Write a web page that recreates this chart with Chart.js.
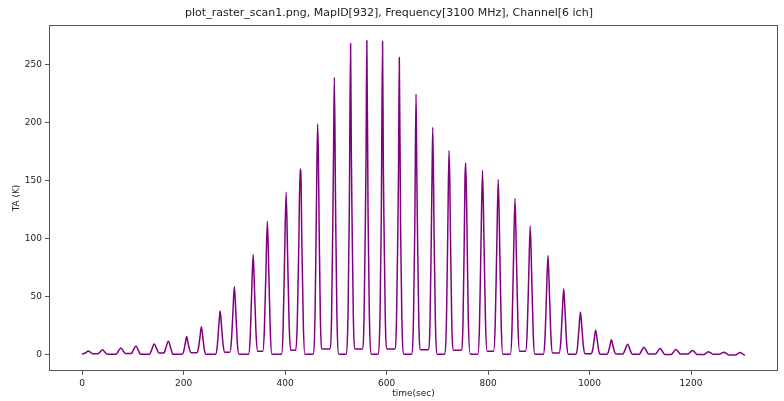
<!DOCTYPE html>
<html>
<head>
<meta charset="utf-8">
<script src="https://cdn.jsdelivr.net/npm/chart.js@4"></script>
<style>
  body { margin: 0; background: #fff; }
  canvas { display: block; }
</style>
</head>
<body>
<canvas id="myChart" width="784" height="401"></canvas>
<script>
// time axis (sec) of the raster scan
const timeSec = [
  0, 7, 12, 17, 21,
  31, 35, 40, 45, 49,
  67, 71, 76, 81, 85,
  97, 101, 106, 111, 115,
  133, 137, 142, 147, 151,
  161, 165, 170, 175, 179,
  197, 200, 203, 206, 209, 212, 215,
  226, 229, 232, 235, 238, 241, 244,
  263, 266, 269, 272, 275, 278, 281,
  291, 294, 297, 300, 303, 306, 309,
  328, 331, 334, 337, 340, 343, 346,
  356, 359, 362, 365, 368, 371, 374,
  393, 396, 399, 402, 405, 408, 411,
  421, 424, 427, 429.5, 431, 433, 436, 439,
  455, 459, 461.5, 464, 465.5, 467, 469.5, 473,
  488, 491.5, 494, 495.5, 497, 499.5, 502, 506,
  520, 524, 526.5, 529, 530.5, 532, 534.5, 538,
  552, 555.5, 558, 559.5, 561, 563.5, 566, 570,
  583, 587, 589.5, 592, 593.5, 595, 597.5, 601,
  616, 619.5, 622, 623.5, 625, 627.5, 630, 634,
  649, 653, 655.5, 658, 659.5, 661, 663.5, 667,
  682, 685.5, 688, 689.5, 691, 693.5, 696, 700,
  714, 718, 720.5, 723, 724.5, 726, 728.5, 732,
  747, 750.5, 753, 754.5, 756, 758.5, 761, 765,
  780, 783, 786, 789, 792, 795, 798,
  811, 814, 817, 820, 823, 826, 829,
  844, 847, 850, 853, 856, 859, 862,
  874, 877, 880, 883, 886, 889, 892,
  909, 912, 915, 918, 921, 924, 927,
  940, 943, 946, 949, 952, 955, 958,
  973, 976, 979, 982, 985, 988, 991,
  1003, 1006, 1009, 1012, 1015, 1018, 1021,
  1034, 1037, 1040, 1043, 1046, 1049, 1052,
  1066, 1070, 1075, 1080, 1084,
  1098, 1102, 1107, 1112, 1116,
  1130, 1134, 1139, 1144, 1148,
  1161, 1165, 1170, 1175, 1179,
  1194, 1198, 1203, 1208, 1212,
  1225, 1229, 1234, 1239, 1243,
  1256, 1260, 1265, 1270, 1274,
  1288, 1292, 1297, 1302, 1306
];

// antenna temperature TA (K) at each time above
const taK = [
  0.5, 1.8, 3.4, 2.0, 0.9,
  0.9, 2.4, 4.3, 2.2, 0.5,
  0.5, 2.9, 6.0, 3.4, 1.2,
  1.2, 4.3, 7.7, 3.6, 0.5,
  0.5, 4.3, 9.4, 5.2, 1.5,
  1.5, 6.2, 11.7, 5.2, 0.5,
  0.5, 2.8, 9.4, 15.7, 9.4, 4.2, 1.8,
  1.8, 5.4, 14.6, 24.3, 14.6, 4.1, 0.5,
  0.5, 6.2, 22.8, 38, 22.8, 8.0, 2.3,
  2.3, 11.1, 35.2, 58.7, 35.2, 9.3, 0.5,
  0.5, 13.5, 51.9, 86.5, 51.9, 16, 3.0,
  3.0, 20.3, 69, 115, 69, 17.8, 0.5,
  0.5, 21.5, 84, 140, 84, 25, 4.0,
  4.0, 28, 96, 160, 157, 96, 24.5, 0.5,
  0.5, 34.9, 120, 199, 172, 112, 30.8, 5,
  5, 31.5, 115, 177, 239, 124, 35.9, 0.5,
  0.5, 35.3, 122, 268, 174, 113, 31.1, 5,
  5, 30.5, 110.5, 170, 270.5, 119, 34.5, 0.5,
  0.5, 33.5, 115.5, 270, 165, 107, 29.8, 5,
  5, 28.9, 103, 159, 256, 111, 32.3, 0.5,
  0.5, 31.7, 109, 224.5, 156, 101, 27.7, 4.3,
  4.3, 27.3, 99.5, 153, 196, 107, 31.1, 0.5,
  0.5, 30.5, 105, 176, 150, 97.5, 26.5, 4,
  4, 26.8, 98.8, 152, 165.5, 106, 30.9, 0.5,
  0.5, 24.4, 95.4, 159, 95.4, 27, 3.2,
  3.2, 25.9, 90.6, 151, 90.6, 23.2, 0.5,
  0.5, 20.7, 80.8, 134.6, 80.8, 23.2, 3,
  3, 19.7, 66.6, 111, 66.6, 17.2, 0.5,
  0.5, 13.3, 51.3, 85.5, 51.3, 14.3, 1.5,
  1.5, 10, 34.2, 57, 34.2, 9.1, 0.5,
  0.5, 6, 22.2, 37, 22.2, 6.6, 1,
  1, 4.2, 12.9, 21.5, 12.9, 3.7, 0.5,
  0.5, 2.5, 7.8, 13, 7.8, 2.8, 0.8,
  0.8, 4.5, 9.2, 4.2, 0.5,
  0.5, 3.1, 6.6, 3.4, 0.8,
  0.8, 2.9, 5.4, 2.6, 0.4,
  0.4, 2.2, 4.6, 2.6, 0.8,
  0.8, 2.2, 3.7, 1.8, 0.3,
  0.3, 1.3, 2.6, 1.6, 0.6,
  0.6, 1.5, 2.3, 1.0, -0.2,
  -0.2, 1.0, 2.0, 0.6, -0.4
];

const xTicks = [0, 200, 400, 600, 800, 1000, 1200];
const yTicks = [0, 50, 100, 150, 200, 250];

const titleText = "plot_raster_scan1.png, MapID[932], Frequency[3100 MHz], Channel[6 ich]";

const points = timeSec.map((t, i) => ({ x: t, y: taK[i] }));

// matplotlib style box round the plot
const frame = {
  id: 'frame',
  afterDraw(chart) {
    const { ctx, chartArea: a } = chart;
    ctx.save();
    ctx.strokeStyle = '#555';
    ctx.lineWidth = 1;
    ctx.strokeRect(a.left + 0.5, a.top + 0.5, a.right - a.left - 1, a.bottom - a.top - 1);
    ctx.restore();
  }
};

const font = { family: 'DejaVu Sans', size: 9 };

new Chart(document.getElementById('myChart'), {
  type: 'line',
  data: {
    datasets: [{
      data: points,
      borderColor: '#800080',
      borderWidth: 1.5,
      pointRadius: 0,
      fill: false,
      cubicInterpolationMode: 'monotone'
    }]
  },
  options: {
    responsive: false,
    animation: false,
    layout: { padding: { left: 0, right: 6, top: 0, bottom: 0 } },
    plugins: {
      legend: { display: false },
      tooltip: { enabled: false },
      title: {
        display: true,
        text: titleText,
        color: '#222',
        font: { family: 'DejaVu Sans', size: 11, weight: 'normal' },
        padding: { top: 7, bottom: 4.8 }
      }
    },
    scales: {
      x: {
        type: 'linear',
        min: -65.3,
        max: 1371.3,
        afterBuildTicks: (axis) => { axis.ticks = xTicks.map(v => ({ value: v })); },
        afterFit: (scale) => { scale.height = 30; },
        border: { display: false },
        grid: { drawOnChartArea: false, drawTicks: true, tickLength: 4, color: '#555' },
        ticks: { color: '#222', font, padding: 3, maxRotation: 0, callback: (v) => String(v) },
        title: { display: true, text: 'time(sec)', color: '#222', font, padding: { top: 0, bottom: 2 } }
      },
      y: {
        min: -13.9,
        max: 284,
        afterBuildTicks: (axis) => { axis.ticks = yTicks.map(v => ({ value: v })); },
        afterFit: (scale) => { scale.width = 49; },
        border: { display: false },
        grid: { drawOnChartArea: false, drawTicks: true, tickLength: 4, color: '#555' },
        ticks: { color: '#222', font, padding: 3, callback: (v) => String(v) },
        title: { display: true, text: 'TA (K)', color: '#222', font, padding: { top: 11, bottom: 0 } }
      }
    }
  },
  plugins: [frame]
});
</script>
</body>
</html>
